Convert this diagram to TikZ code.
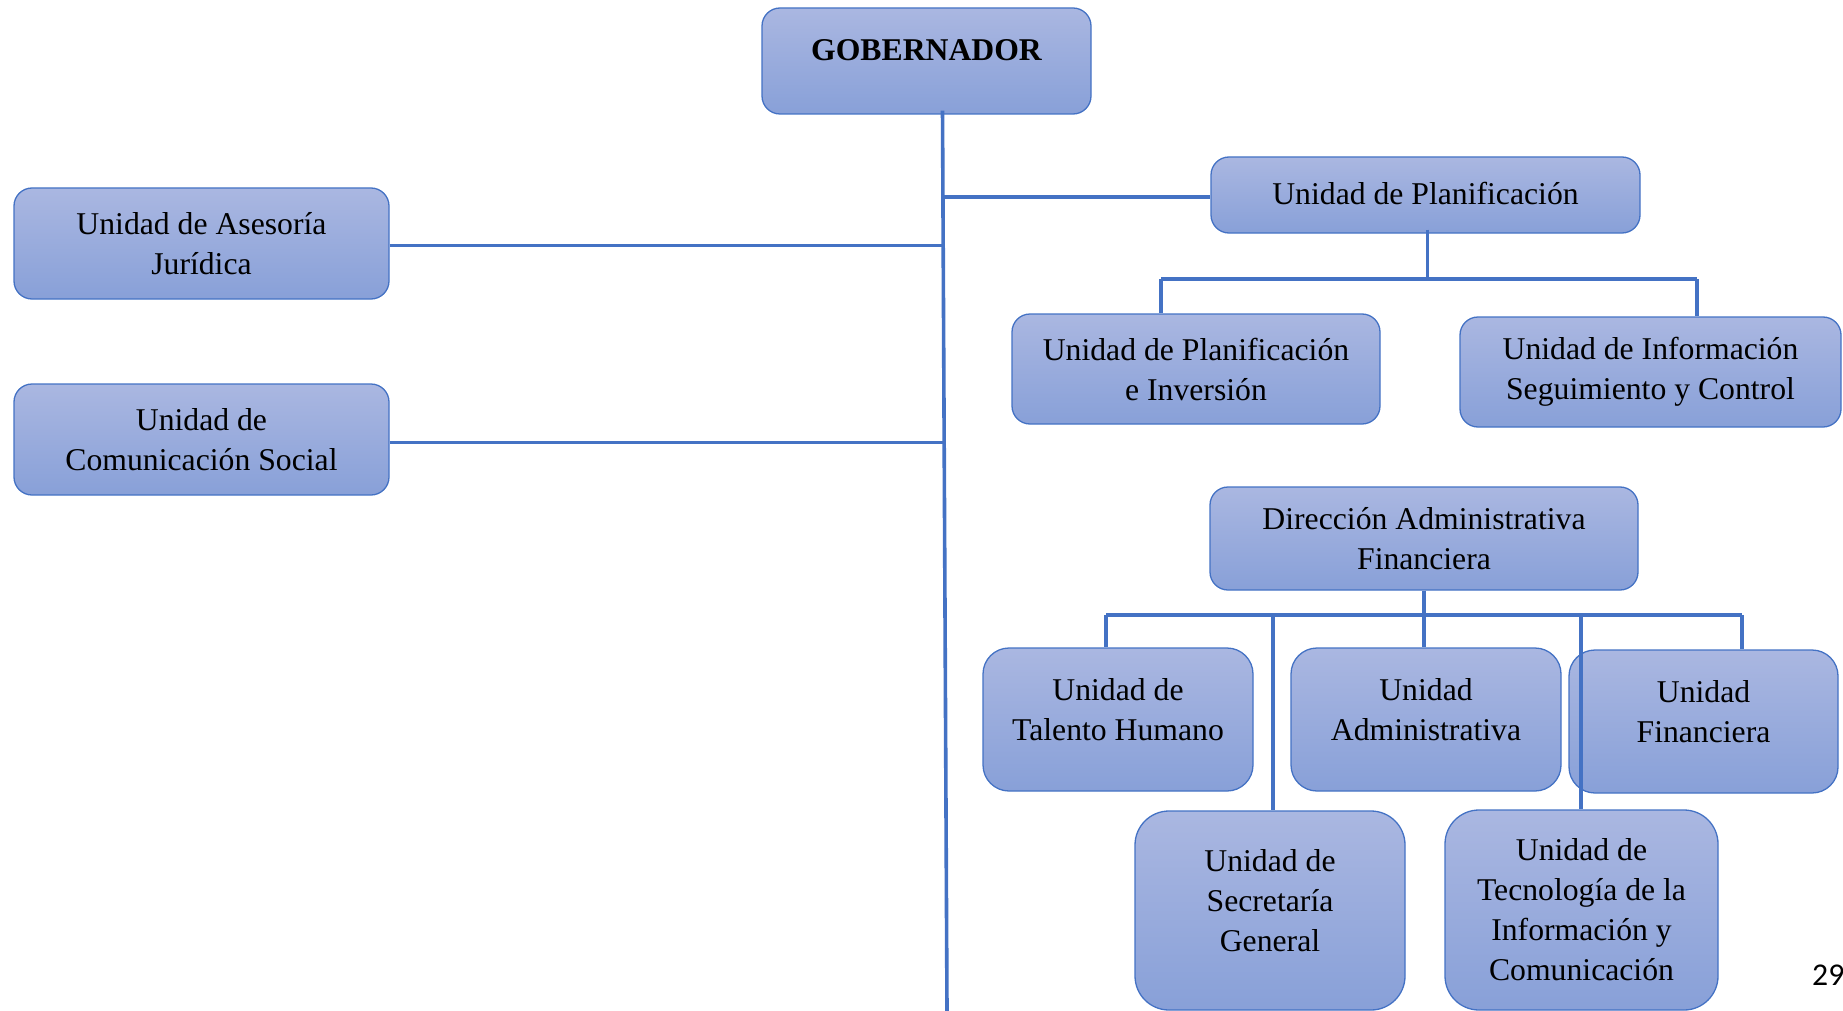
\documentclass[tikz,border=0pt]{standalone}
\usepackage{fontspec}
\setmainfont{Liberation Serif}
\newfontfamily\pagefont{Carlito}
\usetikzlibrary{positioning,calc}

\definecolor{boxline}{RGB}{68,114,196}
\definecolor{boxtop}{RGB}{170,183,225}
\definecolor{boxbot}{RGB}{136,160,216}

\tikzset{
  unit/.style={draw=boxline, line width=1.3pt, rounded corners=18pt,
    top color=boxtop, bottom color=boxbot, inner sep=0pt},
  tall/.style={rounded corners=34pt},
  txt/.style={align=center, inner sep=0pt,
    font=\fontsize{31.7}{40}\selectfont},
  link/.style={draw=boxline, line width=3.6pt},
}

\begin{document}
\begin{tikzpicture}[x=1pt, y=-1pt]
        \useasboundingbox (0,0) rectangle (1843,1011);
        % Boxes
        \node (gob) at (926.5,61) [unit, minimum width=329pt, minimum height=106pt] {};
        \node (asj) at (201.5,243.5) [unit, minimum width=375pt, minimum height=111pt] {};
        \node (com) at (201.5,439.5) [unit, minimum width=375pt, minimum height=111pt] {};
        \node (pla) at (1425.5,195) [unit, minimum width=429pt, minimum height=76pt] {};
        \node (pin) at (1196,369) [unit, minimum width=368pt, minimum height=110pt] {};
        \node (isc) at (1650.5,372) [unit, minimum width=381pt, minimum height=110pt] {};
        \node (daf) at (1424,538.5) [unit, minimum width=428pt, minimum height=103pt] {};
        \node (tah) at (1118,719.5) [unit, minimum width=270pt, minimum height=143pt, rounded corners=26pt] {};
        \node (uad) at (1426,719.5) [unit, minimum width=270pt, minimum height=143pt, rounded corners=26pt] {};
        \node (ufi) at (1703.5,721.5) [unit, minimum width=269pt, minimum height=143pt, rounded corners=26pt] {};
        \node (sec) at (1270,910.5) [unit, tall, minimum width=270pt, minimum height=199pt] {};
        \node (tic) at (1581.5,910) [unit, tall, minimum width=273pt, minimum height=200pt] {};

        % Texts
        \node (gob-t) at ([yshift=11pt]gob.center) [txt, font=\fontsize{31.7}{40}\selectfont\bfseries] {GOBERNADOR};
        \node (asj-t) at (asj.center) [txt] {Unidad de Asesoría\\Jurídica};
        \node (com-t) at (com.center) [txt] {Unidad de\\Comunicación Social};
        \node (pla-t) at ([yshift=2pt]pla.center) [txt] {Unidad de Planificación};
        \node (pin-t) at (pin.center) [txt] {Unidad de Planificación\\e Inversión};
        \node (isc-t) at (isc.center) [txt] {Unidad de Información\\Seguimiento y Control};
        \node (daf-t) at (daf.center) [txt] {Dirección Administrativa\\Financiera};
        \node (tah-t) at ([yshift=10pt]tah.center) [txt] {Unidad de\\Talento Humano};
        \node (uad-t) at ([yshift=10pt]uad.center) [txt] {Unidad\\Administrativa};
        \node (ufi-t) at ([yshift=10pt]ufi.center) [txt] {Unidad\\Financiera};
        \node (sec-t) at ([yshift=10pt]sec.center) [txt] {Unidad de\\Secretaría\\General};
        \node (tic-t) at (tic.center) [txt] {Unidad de\\Tecnología de la\\Información y\\Comunicación};
        \node (pg) at (1812,985) [anchor=base west, inner sep=0pt, font=\pagefont\fontsize{31.7}{38}\selectfont] {29};

        % Trunk
        \coordinate (gtop) at ([xshift=16pt,yshift=4pt]gob.south);
        \coordinate (gend) at (947,1011);
        \draw[link] (gtop) -- (gend);
        \draw[link] ([yshift=-2pt]asj.east) -- ([yshift=-2pt,xshift=1pt]asj.east -| gtop);
        \draw[link] ([yshift=-3pt]com.east) -- ([yshift=-3pt,xshift=2pt]com.east -| gtop);
        \draw[link] ([yshift=-2pt]pla.west -| gtop) -- ([yshift=-2pt]pla.west);

        % Planificacion
        \coordinate (pb1) at (1161,279);
        \coordinate (pb2) at (1697,279);
        \draw[link] ([xshift=2pt,yshift=4pt]pla.south) -- ([xshift=2pt]pla.south |- pb1);
        \draw[link] (pb1) -- (pb2);
        \draw[link] (pb1) -- (pb1 |- pin.north);
        \draw[link] (pb2) -- (pb2 |- isc.north);

        % Direccion
        \coordinate (db1) at (1106,615);
        \coordinate (db2) at (1742,615);
        \draw[link] (daf.south) -- (daf.south |- db1);
        \draw[link] (db1) -- (db2);
        \draw[link] (db1) -- (db1 |- tah.north);
        \draw[link] (daf.south |- db1) -- (uad.north -| daf.south);
        \draw[link] (db2) -- (db2 |- ufi.north);
        \foreach \u/\x in {sec/1273, tic/1581} {
            \draw[link] (\x,615) -- (\x,0 |- \u.north);
        }
\end{tikzpicture}
\end{document}
